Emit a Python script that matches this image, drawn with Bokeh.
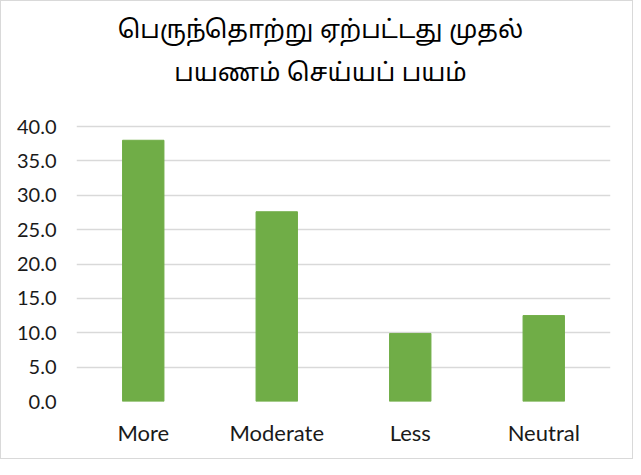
from bokeh.plotting import figure
from bokeh.models import FactorRange, Range1d, FixedTicker, NumeralTickFormatter, Label
from bokeh.embed import file_html
from bokeh.resources import INLINE

categories = ["More", "Moderate", "Less", "Neutral"]
values = [38.0, 27.6, 9.9, 12.5]
y_ticks = [0, 5, 10, 15, 20, 25, 30, 35, 40]
title_line1 = "பெருந்தொற்று ஏற்பட்டது முதல்"
title_line2 = "பயணம் செய்யப் பயம்"

# layout: frame extends up to hold the title; the 0-40 axis occupies the lower 275 px
fig_h = 459
top_border = 10
bottom_border = 59
axis_px = 275
frame_px = fig_h - top_border - bottom_border
y_end = 40 * frame_px / axis_px

p = figure(
    x_range=FactorRange(factors=categories, range_padding=0),
    y_range=Range1d(0, y_end),
    width=633, height=fig_h,
    output_backend="svg", toolbar_location=None,
    min_border_left=75, min_border_right=24, min_border_bottom=bottom_border,
    min_border_top=top_border,
)
p.styles = {"border": "1px solid #d9d9d9", "box-sizing": "border-box"}

p.vbar(x=categories, top=values, width=0.31, color="#70AD47")

p.outline_line_color = None
p.xgrid.grid_line_color = None
p.ygrid.grid_line_color = "#D9D9D9"
p.ygrid.grid_line_width = 1.5

p.yaxis.ticker = FixedTicker(ticks=y_ticks)
p.yaxis.formatter = NumeralTickFormatter(format="0.0")
for ax in (p.xaxis[0], p.yaxis[0]):
    ax.axis_line_color = None
    ax.major_tick_line_color = None
    ax.minor_tick_line_color = None
    ax.major_label_text_font = "Lato"
    ax.major_label_text_color = "#1a1a1a"
p.yaxis.major_label_text_font_size = "20px"
p.xaxis.major_label_text_font_size = "22px"
p.yaxis.major_label_standoff = 14
p.xaxis.major_label_standoff = 11

title_style = dict(x_units="screen", y_units="screen", text_align="center",
                   text_baseline="middle", text_font="Noto Sans Tamil",
                   text_font_size="25px", text_color="#000000")
p.add_layout(Label(x=244, y=frame_px - 20, text=title_line1, **title_style))
p.add_layout(Label(x=244, y=frame_px - 63, text=title_line2, **title_style))

open("out.html", "w").write(file_html(p, INLINE))
